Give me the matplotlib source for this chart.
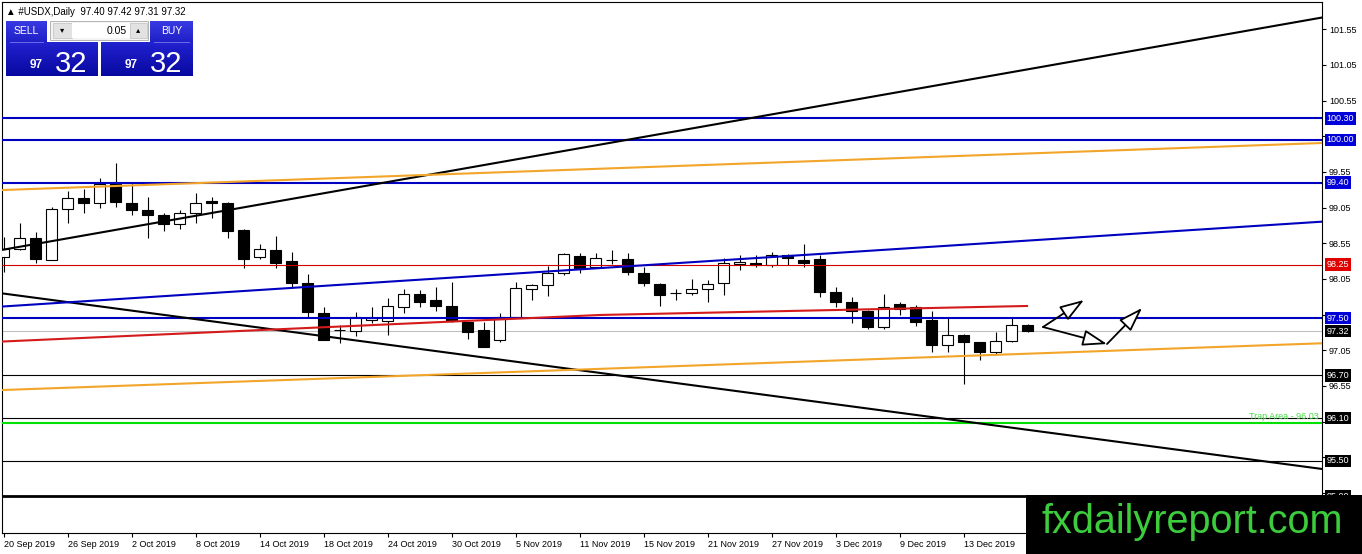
import numpy as np
import matplotlib.pyplot as plt
from matplotlib.colors import LinearSegmentedColormap
from matplotlib.patches import Rectangle
import matplotlib.transforms as mtrans

plt.rcParams['font.family'] = ['Liberation Sans', 'DejaVu Sans']

# USDX daily candles, 20 Sep 2019 .. 19 Dec 2019
opens = [98.36, 98.47, 98.63, 98.31, 99.03, 99.18, 99.12, 99.40, 99.12, 99.01,
         98.94, 98.82, 98.98, 99.14, 99.12, 98.74, 98.36, 98.46, 98.30, 98.00,
         97.57, 97.33, 97.32, 97.47, 97.46, 97.65, 97.84, 97.75, 97.67, 97.44,
         97.33, 97.20, 97.51, 97.91, 97.97, 98.14, 98.37, 98.22, 98.31, 98.33,
         98.14, 97.98, 97.85, 97.85, 97.91, 97.99, 98.26, 98.28, 98.24, 98.38,
         98.32, 98.33, 97.86, 97.73, 97.60, 97.38, 97.70, 97.66, 97.47, 97.13,
         97.27, 97.16, 97.02, 97.18, 97.40]
highs = [98.64, 98.84, 98.71, 99.06, 99.28, 99.31, 99.46, 99.67, 99.39, 99.20,
         98.98, 99.02, 99.25, 99.20, 99.13, 98.75, 98.54, 98.65, 98.43, 98.12,
         97.66, 97.40, 97.58, 97.66, 97.78, 97.91, 97.89, 97.94, 98.01, 97.45,
         97.45, 97.57, 98.01, 97.98, 98.23, 98.41, 98.41, 98.42, 98.46, 98.42,
         98.22, 98.00, 97.91, 98.05, 98.04, 98.34, 98.39, 98.39, 98.43, 98.40,
         98.54, 98.39, 97.94, 97.80, 97.61, 97.84, 97.73, 97.68, 97.60, 97.50,
         97.28, 97.17, 97.31, 97.50, 97.42]
lows = [98.15, 98.46, 98.28, 98.31, 98.84, 98.98, 99.05, 99.06, 98.95, 98.63,
        98.72, 98.75, 98.84, 98.90, 98.62, 98.20, 98.33, 98.21, 97.93, 97.52,
        97.19, 97.15, 97.25, 97.43, 97.27, 97.57, 97.66, 97.60, 97.45, 97.21,
        97.09, 97.16, 97.50, 97.76, 97.81, 98.11, 98.13, 98.21, 98.26, 98.11,
        97.95, 97.67, 97.75, 97.82, 97.72, 97.83, 98.17, 98.22, 98.22, 98.25,
        98.22, 97.80, 97.66, 97.43, 97.35, 97.35, 97.54, 97.39, 97.03, 97.03,
        96.58, 96.92, 96.99, 97.16, 97.31]
closes = [98.47, 98.63, 98.33, 99.03, 99.19, 99.11, 99.38, 99.13, 99.02, 98.95,
          98.82, 98.98, 99.12, 99.12, 98.72, 98.33, 98.47, 98.28, 98.00, 97.58,
          97.20, 97.33, 97.52, 97.50, 97.67, 97.84, 97.73, 97.67, 97.46, 97.31,
          97.09, 97.52, 97.92, 97.97, 98.14, 98.40, 98.21, 98.35, 98.31, 98.15,
          97.99, 97.82, 97.85, 97.91, 97.98, 98.28, 98.29, 98.25, 98.39, 98.34,
          98.28, 97.86, 97.72, 97.60, 97.37, 97.66, 97.63, 97.45, 97.12, 97.27,
          97.17, 97.03, 97.18, 97.41, 97.32]

date_labels = ['20 Sep 2019', '26 Sep 2019', '2 Oct 2019', '8 Oct 2019', '14 Oct 2019',
               '18 Oct 2019', '24 Oct 2019', '30 Oct 2019', '5 Nov 2019', '11 Nov 2019',
               '15 Nov 2019', '21 Nov 2019', '27 Nov 2019', '3 Dec 2019', '9 Dec 2019',
               '13 Dec 2019']
date_bars = [0, 4, 8, 12, 16, 20, 24, 28, 32, 36, 40, 44, 48, 52, 56, 60]

# horizontal levels
blue_levels = [100.30, 100.00, 99.40, 97.50]
red_level = 98.25
black_levels = [96.70, 96.10, 95.50]
bottom_level = 95.00
trap_level = 96.03
last_price = 97.32

# trend lines: two points each (bar, price)
black_up = [(-0.03, 98.46), (82.4, 101.715)]
black_down = [(-0.03, 97.846), (82.4, 95.386)]
blue_channel = [(-0.03, 97.664), (82.4, 98.853)]
orange_top = [(-0.03, 99.297), (82.4, 99.956)]
orange_bottom = [(-0.03, 96.493), (82.4, 97.148)]
red_x = [-0.03, 37.3, 63.97]
red_y = [97.173, 97.545, 97.671]

# drawn arrows (bar, price)
arrow_pts = [((64.97, 97.376), (67.53, 97.755)),
             ((64.97, 97.376), (68.97, 97.138)),
             ((68.97, 97.138), (71.16, 97.643))]

# price tags on the right scale
tags = [(100.30, '100.30', '#0000d8'), (100.00, '100.00', '#0000d8'),
        (99.40, '99.40', '#0000d8'), (98.25, '98.25', '#e00000'),
        (97.50, '97.50', '#0000d8'), (97.32, '97.32', 'black'),
        (96.70, '96.70', 'black'), (96.10, '96.10', 'black'),
        (95.50, '95.50', 'black'), (95.00, '95.00', 'black')]

W, H = 1362, 554
fig = plt.figure(figsize=(W / 100, H / 100), dpi=100)
ax = fig.add_axes([2 / W, 21 / H, 1320 / W, 531 / H])

blue = '#0000c0'
orange = '#f2a529'

# candles
x = np.arange(len(opens))
o = np.array(opens)
c = np.array(closes)
ax.vlines(x, lows, highs, color='black', lw=0.8, zorder=2)
up = c >= o
ax.bar(x[up], (c - o)[up], bottom=o[up], width=0.65, color='white',
       edgecolor='black', lw=0.8, zorder=3)
ax.bar(x[~up], (c - o)[~up], bottom=o[~up], width=0.65, color='black',
       edgecolor='black', lw=0.8, zorder=3)

# levels
ax.axhline(last_price, color='#c0c0c0', lw=0.8, zorder=1)
for lv in blue_levels:
    ax.axhline(lv, color=blue, lw=1.5, zorder=4)
ax.axhline(red_level, color='#d00000', lw=0.8, zorder=4)
for lv in black_levels:
    ax.axhline(lv, color='black', lw=0.8, zorder=4)
ax.axhline(bottom_level, color='black', lw=2, zorder=4)
ax.axhline(trap_level, color='#00e000', lw=1.5, zorder=4)
ax.text(82.2, trap_level + 0.035, 'Trap Area - 96.03', color='#44dd44', fontsize=6.5,
        ha='right', va='bottom', zorder=5)

# trend lines
ax.axline(*black_up, color='black', lw=1.5, zorder=4)
ax.axline(*black_down, color='black', lw=1.5, zorder=4)
ax.axline(*blue_channel, color=blue, lw=1.5, zorder=4)
ax.axline(*orange_top, color=orange, lw=1.5, zorder=4)
ax.axline(*orange_bottom, color=orange, lw=1.5, zorder=4)
ax.plot(red_x, red_y, color='#d41a1a', lw=1.5, zorder=4)

for tail, tip in arrow_pts:
    ax.annotate('', xy=tip, xytext=tail, zorder=6,
                arrowprops=dict(arrowstyle='-|>,head_length=0.75,head_width=0.25',
                                fc='white', ec='black', lw=1.3,
                                mutation_scale=20, shrinkA=0, shrinkB=0))

ax.set_xlim(-0.094, 82.406)
ax.set_ylim(94.488, 101.933)

# right price scale; labels under a price tag are hidden like on the terminal
yt = np.round(np.arange(95.05, 101.6, 0.5), 2)
ax.yaxis.tick_right()
ax.set_yticks(yt)
tag_prices = [t[0] for t in tags]
ax.set_yticklabels(['' if min(abs(v - p) for p in tag_prices) < 0.08 else '%.2f' % v
                    for v in yt])
ax.set_xticks(date_bars)
ax.set_xticklabels(date_labels)
for lbl in ax.get_xticklabels():
    lbl.set_ha('left')
ax.tick_params(axis='both', direction='out', length=3, width=0.8,
               labelsize=6.5, pad=2)
for sp in ax.spines.values():
    sp.set_linewidth(0.8)

tr = mtrans.blended_transform_factory(ax.transAxes, ax.transData)
for price, txt, col in tags:
    ax.text(1.0035, price, txt, transform=tr, color='white', fontsize=6.5,
            ha='left', va='center', clip_on=False, zorder=7,
            bbox=dict(boxstyle='square,pad=0.2', fc=col, ec='none'))

# overlay in pixel coordinates: trade panel, header, logo
ov = fig.add_axes([0, 0, 1, 1], zorder=10)
ov.patch.set_alpha(0)


def grad(x0, y0, x1, y1, ctop, cbot):
    cm = LinearSegmentedColormap.from_list('g', [ctop, cbot])
    ov.imshow(np.linspace(0, 1, 64).reshape(-1, 1), cmap=cm, aspect='auto',
              extent=(x0, x1, y1, y0), interpolation='bilinear')


ov.text(6, 12, '\u25b2 #USDX,Daily  97.40 97.42 97.31 97.32', fontsize=7,
        va='center', ha='left')

for left, lab_x0, lab_x1, lab in [(6, 6, 47, 'SELL'), (101, 150, 193, 'BUY')]:
    grad(lab_x0, 21, lab_x1, 42, '#3a3ae4', '#2020c8')
    ov.plot([lab_x0 + 4, lab_x1 - 4], [41.5, 41.5], color='#7878f0', lw=0.6)
    ov.text((lab_x0 + lab_x1) / 2, 31.5, lab, color='white', fontsize=7.5,
            ha='center', va='center')
    grad(left, 42, left + 92, 76, '#2222d0', '#0808a0')
    ov.text(left + 37, 68.3, '97', color='white', fontsize=8.5, ha='right',
            va='baseline', fontweight='bold')
    ov.text(left + 49, 71.7, '32', color='white', fontsize=21, ha='left',
            va='baseline')

ov.add_patch(Rectangle((50, 21), 98, 19, fc='#f4f4f4', ec='#a8a8a8', lw=0.6))
ov.add_patch(Rectangle((53, 23), 19, 15, fc='#e2e2e2', ec='#c0c0c0', lw=0.5))
ov.add_patch(Rectangle((130, 23), 17, 15, fc='#e2e2e2', ec='#c0c0c0', lw=0.5))
ov.add_patch(Rectangle((72, 23), 58, 15, fc='white', ec='none'))
ov.text(62.5, 30.5, '\u25be', fontsize=6, ha='center', va='center')
ov.text(138.5, 30.5, '\u25b4', fontsize=6, ha='center', va='center')
ov.text(127, 30.5, '0.05', fontsize=7.5, ha='right', va='center')

ov.add_patch(Rectangle((1026, 495), W - 1026, H - 495, fc='black', ec='none'))
ov.text(1042, 533, 'fxdailyreport.com', color='#3ccc3c', fontsize=28.5,
        ha='left', va='baseline')

ov.set_xlim(0, W)
ov.set_ylim(H, 0)
ov.axis('off')

fig.savefig('out.png', dpi=100)
